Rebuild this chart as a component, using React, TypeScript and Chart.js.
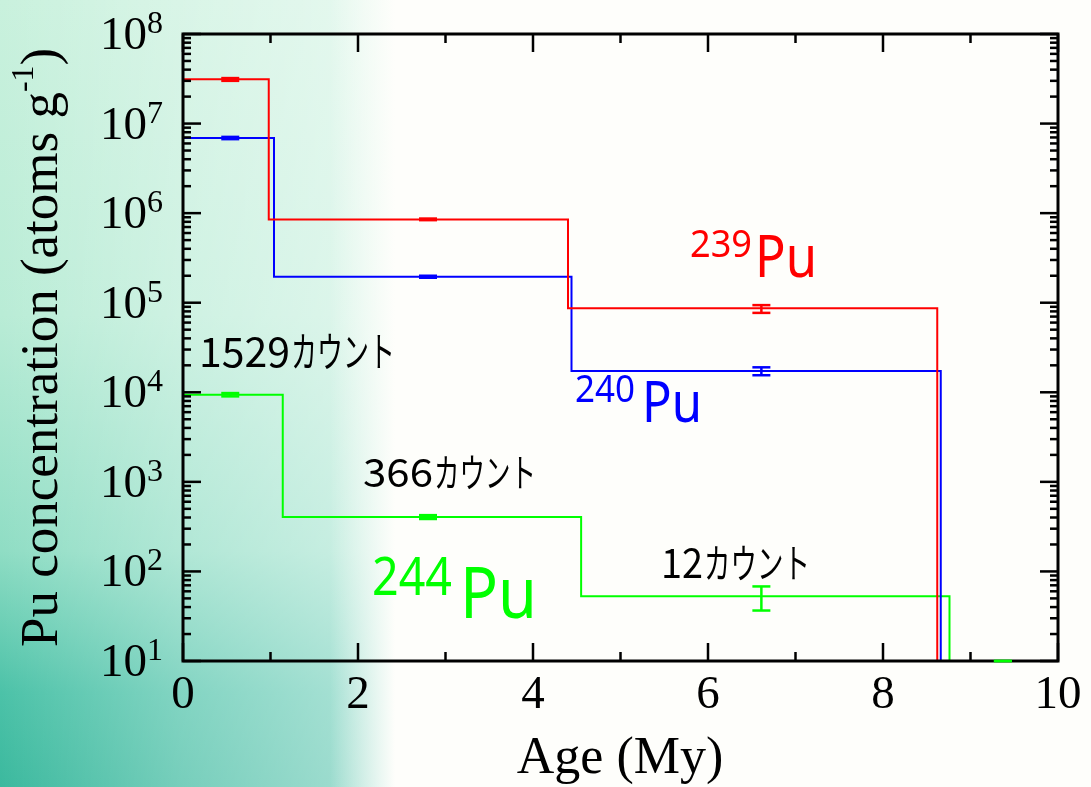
import React, { useEffect, useRef } from "react";
import { Chart, registerables } from "chart.js";

Chart.register(...registerables);

// ---- data ----
const edges239 = [0, 0.98, 4.4, 8.62];
const conc239 = [3.12e7, 8.5e5, 8.65e4];
const edges240 = [0, 1.04, 4.44, 8.66];
const conc240 = [6.9e6, 1.95e5, 1.73e4];
const edges244 = [0, 1.14, 4.55, 8.76];
const conc244 = [9.4e3, 405, 53];
const floorValue = 10;

const errX239 = [0.54, 2.8, 6.61];
const err239Lo = [3.0e7, 8.35e5, 7.7e4];
const err239Hi = [3.22e7, 8.7e5, 9.4e4];
const errX240 = [0.54, 2.8, 6.61];
const err240Lo = [6.7e6, 1.9e5, 1.55e4];
const err240Hi = [7.1e6, 2.0e5, 1.9e4];
const errX244 = [0.54, 2.8, 6.61, 9.37];
const err244Lo = [9.0e3, 385, 36.6, 10];
const err244Hi = [9.8e3, 425, 68, 10];

const xTickLabels = [0, 2, 4, 6, 8, 10];
const yExponents = [1, 2, 3, 4, 5, 6, 7, 8];
const countValues = ["1529", "366", "12"];
const countSuffix = "カウント";
const isotopes = ["239", "240", "244"];

const RED = "#ff0000";
const BLUE = "#0000ff";
const GREEN = "#00ff00";
const SERIF = "'Liberation Serif', 'Times New Roman', serif";
const SANS = "'Noto Sans', 'Open Sans', sans-serif";
const CJK = "'Noto Sans CJK JP', 'Noto Sans', sans-serif";

// label layout (pixel boxes: left, right, baseline, font size)
const countLayout = [
  { numL: 199, numR: 290, kanaR: 395, base: 367, size: 41 },
  { numL: 363, numR: 433, kanaR: 536, base: 487, size: 39 },
  { numL: 661, numR: 703, kanaR: 810, base: 578, size: 40 },
];
const isoLayout = [
  { color: RED, supL: 690, supR: 752, supBase: 257, supSize: 39, puL: 755, puR: 817, puBase: 277, puSize: 59 },
  { color: BLUE, supL: 575, supR: 635, supBase: 402, supSize: 38, puL: 642, puR: 702, puBase: 422, puSize: 56 },
  { color: GREEN, supL: 372, supR: 452, supBase: 595, supSize: 52, puL: 460, puR: 537, puBase: 618, puSize: 71 },
];

function stepPoints(edges: number[], vals: number[]) {
  const pts = vals.map((v, i) => ({ x: edges[i], y: v }));
  pts.push({ x: edges[edges.length - 1], y: vals[vals.length - 1] });
  pts.push({ x: edges[edges.length - 1], y: floorValue });
  return pts;
}

function drawFit(ctx: CanvasRenderingContext2D, text: string, font: string, color: string, left: number, base: number, width: number) {
  ctx.font = font;
  ctx.fillStyle = color;
  ctx.textAlign = "left";
  ctx.textBaseline = "alphabetic";
  const w = ctx.measureText(text).width;
  ctx.save();
  ctx.translate(left, base);
  ctx.scale(width / w, 1);
  ctx.fillText(text, 0, 0);
  ctx.restore();
}

const overlay = {
  id: "overlay",
  afterDatasetsDraw(chart: any) {
    const ctx: CanvasRenderingContext2D = chart.ctx;
    const a = chart.chartArea;
    const xs = chart.scales.x;
    const ys = chart.scales.y;
    ctx.save();
    const line = (x1: number, y1: number, x2: number, y2: number) => {
      ctx.beginPath();
      ctx.moveTo(x1, y1);
      ctx.lineTo(x2, y2);
      ctx.stroke();
    };
    // frame
    ctx.strokeStyle = "#000";
    ctx.lineWidth = 3;
    ctx.strokeRect(a.left, a.top, a.right - a.left, a.bottom - a.top);
    // x ticks (inward)
    ctx.lineWidth = 2.5;
    for (let v = 0; v <= 10; v++) {
      const px = xs.getPixelForValue(v);
      const len = v % 2 === 0 ? 18 : 9;
      line(px, a.bottom, px, a.bottom - len);
      line(px, a.top, px, a.top + len);
    }
    // y ticks (inward)
    for (let e = 1; e <= 8; e++) {
      for (let m = 1; m <= 9; m++) {
        if (e === 8 && m > 1) break;
        const py = ys.getPixelForValue(m * Math.pow(10, e));
        const len = m === 1 ? 18 : 8;
        line(a.left, py, a.left + len, py);
        line(a.right, py, a.right - len, py);
      }
    }
    // error bars
    const errs = [
      { c: RED, xv: errX239, lo: err239Lo, hi: err239Hi },
      { c: BLUE, xv: errX240, lo: err240Lo, hi: err240Hi },
      { c: GREEN, xv: errX244, lo: err244Lo, hi: err244Hi },
    ];
    ctx.lineWidth = 2.5;
    for (const s of errs) {
      ctx.strokeStyle = s.c;
      s.xv.forEach((xv, i) => {
        const px = xs.getPixelForValue(xv);
        const pl = ys.getPixelForValue(s.lo[i]);
        const ph = ys.getPixelForValue(s.hi[i]);
        line(px, pl, px, ph);
        line(px - 9, pl, px + 9, pl);
        line(px - 9, ph, px + 9, ph);
      });
    }
    // x tick labels
    ctx.fillStyle = "#000";
    ctx.font = `47px ${SERIF}`;
    ctx.textAlign = "center";
    ctx.textBaseline = "alphabetic";
    xTickLabels.forEach((v) => {
      ctx.fillText(String(v), xs.getPixelForValue(v), 708);
    });
    // y tick labels
    yExponents.forEach((e) => {
      const py = ys.getPixelForValue(Math.pow(10, e));
      ctx.font = `47px ${SERIF}`;
      ctx.textAlign = "right";
      ctx.fillText("10", 147, py + 15);
      ctx.font = `32px ${SERIF}`;
      ctx.textAlign = "left";
      ctx.fillText(String(e), 147, py - 1);
    });
    // x title
    ctx.font = `52px ${SERIF}`;
    ctx.textAlign = "center";
    ctx.fillText("Age (My)", 620, 773);
    // y title (rotated)
    ctx.save();
    ctx.translate(57, 647);
    ctx.rotate(-Math.PI / 2);
    ctx.textAlign = "left";
    ctx.font = `53px ${SERIF}`;
    const main = "Pu concentration (atoms g";
    ctx.fillText(main, 0, 0);
    let off = ctx.measureText(main).width;
    ctx.font = `32px ${SERIF}`;
    ctx.fillText("-1", off, -24);
    off += ctx.measureText("-1").width;
    ctx.font = `53px ${SERIF}`;
    ctx.fillText(")", off, 0);
    ctx.restore();
    // count annotations
    countLayout.forEach((L, i) => {
      drawFit(ctx, countValues[i], `${L.size}px ${CJK}`, "#000", L.numL, L.base, L.numR - L.numL);
      drawFit(ctx, countSuffix, `${L.size}px ${CJK}`, "#000", L.numR + 1, L.base, L.kanaR - L.numR - 1);
    });
    // isotope labels
    isoLayout.forEach((L, i) => {
      drawFit(ctx, isotopes[i], `${L.supSize}px ${SANS}`, L.color, L.supL, L.supBase, L.supR - L.supL);
      drawFit(ctx, "Pu", `${L.puSize}px ${SANS}`, L.color, L.puL, L.puBase, L.puR - L.puL);
    });
    ctx.restore();
  },
};

export default function App() {
  const ref = useRef<HTMLCanvasElement | null>(null);
  useEffect(() => {
    if (!ref.current) return;
    const mk = (data: any[], color: string) => ({
      data,
      borderColor: color,
      borderWidth: 2,
      stepped: "before" as const,
      pointRadius: 0,
      fill: false,
    });
    const chart = new Chart(ref.current, {
      type: "line",
      data: {
        datasets: [
          mk(stepPoints(edges239, conc239), RED),
          mk(stepPoints(edges240, conc240), BLUE),
          mk(stepPoints(edges244, conc244), GREEN),
        ],
      },
      options: {
        responsive: false,
        animation: false,
        parsing: true,
        layout: { padding: { left: 183, top: 34, right: 33, bottom: 126 } },
        plugins: { legend: { display: false }, tooltip: { enabled: false } },
        scales: {
          x: {
            type: "linear",
            min: 0,
            max: 10,
            ticks: { display: false },
            grid: { display: false },
            border: { display: false },
            afterFit: (s: any) => {
              s.height = 0;
            },
          },
          y: {
            type: "logarithmic",
            min: 10,
            max: 1e8,
            ticks: { display: false },
            grid: { display: false },
            border: { display: false },
            afterFit: (s: any) => {
              s.width = 0;
            },
          },
        },
      },
      plugins: [overlay],
    });
    return () => chart.destroy();
  }, []);

  const bg = [
    "linear-gradient(to right, rgba(254,254,251,0) 0px, rgba(254,254,251,0) 330px, rgba(254,254,251,1) 395px)",
    "linear-gradient(to right, rgba(255,255,255,0) 0px, rgba(255,255,255,0.3) 180px, rgba(255,255,255,0.55) 380px)",
    "linear-gradient(to bottom, #c9f1dd 0%, #b9ecd6 40%, #8fddc4 70%, #4cc2a8 88%, #3bb99e 100%)",
  ].join(", ");

  return (
    <div style={{ position: "fixed", left: 0, top: 0, width: 1091, height: 787, background: bg }}>
      <canvas ref={ref} width={1091} height={787} style={{ display: "block" }} />
    </div>
  );
}
